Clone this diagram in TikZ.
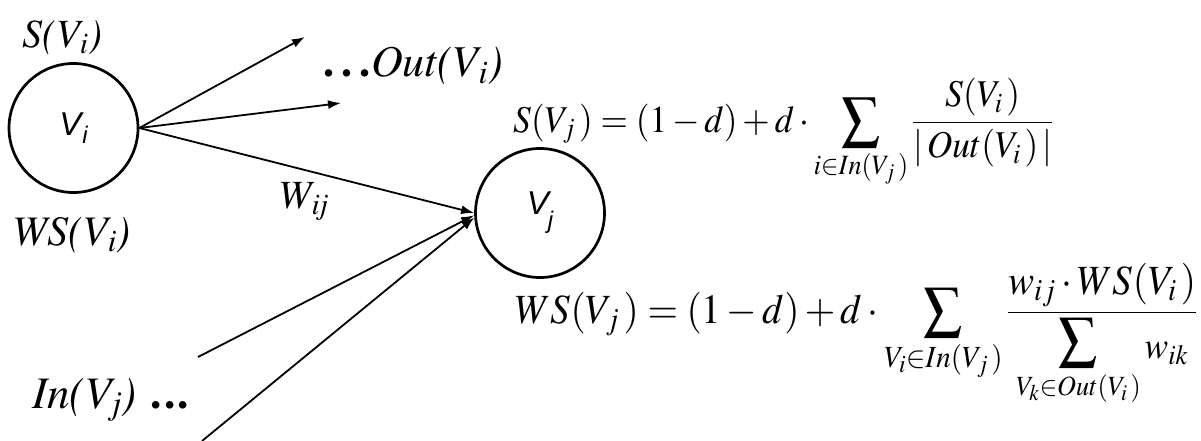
\documentclass[tikz,border=0pt]{standalone}
\usepackage{mathptmx}
\usepackage[no-math]{fontspec}
\newfontfamily\arialf{Liberation Sans}
\usepackage{graphicx}
\usetikzlibrary{arrows.meta}
\newcommand\timesit{\fontencoding{OT1}\fontfamily{ptm}\fontseries{m}\fontshape{it}\selectfont}
\newcommand\timesbf{\fontencoding{OT1}\fontfamily{ptm}\fontseries{b}\fontshape{n}\selectfont}
\newcommand\bigsumop{\mathop{\vcenter{\hbox{\resizebox*{42pt}{50pt}{$\textstyle\sum$}}}}\limits}
\tikzset{
  vert/.style={circle,draw,line width=2.7pt,minimum size=129pt,inner sep=0pt,
    font=\arialf\itshape\fontsize{33}{38}\selectfont},
  lbl/.style={inner sep=0pt,anchor=base west},
  formula/.style={inner sep=0pt,anchor=base west},
  edge/.style={line width=1.8pt,-{Latex[length=13pt,width=9pt]}}
}
\begin{document}
\begin{tikzpicture}[x=1pt,y=-1pt]
\useasboundingbox (0,0) rectangle (1201,441);
\node[vert] (Vi) at (73.5,128) {V\kern1pt\raisebox{-8pt}{\fontsize{24}{26}\selectfont i}};
\node[vert] (Vj) at (540,213) {V\kern-1pt\raisebox{-14pt}{\fontsize{24}{26}\selectfont j}};
\node[lbl,font=\fontsize{40}{44}\timesit] (SVi) at (22,48) {S(V$_{\mathit{i}}$)};
\node[lbl,font=\fontsize{42}{46}\timesit] (WSVi) at (12,245) {WS(V$_{\mathit{i}}$)};
\node[lbl,font=\fontsize{44}{48}\timesit] (Out) at (323,77) {{\timesbf.\kern7pt.\kern7pt.}\kern1pt Out(V$_{\mathit{i}}$)};
\node[lbl,font=\fontsize{40}{44}\timesit] (Wij) at (278,208) {W$_{\mathit{ij}}$};
\node[lbl,font=\fontsize{45}{48}\timesit] (In) at (32,408) {In(V$_{\mathit{j}}$)\kern14pt{\timesbf.\kern2pt.\kern2pt.}};
\coordinate (o1) at (305,37);
\coordinate (o2) at (341,103);
\coordinate (i1) at (198,357);
\coordinate (i2) at (202,441);
\draw[edge] (Vi.east) -- (o1);
\draw[edge] (Vi.east) -- (o2);
\draw[edge] (Vi.east) -- (Vj.180);
\draw[edge] (i1) -- (Vj.182);
\draw[edge] (i2) -- (Vj.184);
\node[formula] (F1) at (513,132)
  {\resizebox{540pt}{54pt}{\fontsize{38}{42}\selectfont
   $\displaystyle S(V_{j}\,)=(1-d)+d\cdot\bigsumop_{i\in In(V_{j}\,)}\frac{S(V_{i}\,)}{|\,Out(V_{i}\,)\,|}$}};
\node[formula] (F2) at (515,323)
  {\resizebox{682pt}{60pt}{\fontsize{42}{46}\selectfont
   $\displaystyle WS(V_{j}\,)=(1-d)+d\cdot\bigsumop_{V_i\in In(V_{j}\,)}\frac{\mbox{\fontsize{42}{44}\selectfont$w_{ij}\cdot WS(V_{i}\,)$}}{\mbox{\fontsize{38}{40}\selectfont$\displaystyle\bigsumop_{V_k\in Out(V_{i}\,)}\raisebox{-6pt}{$w_{ik}$}$}}$}};
\end{tikzpicture}
\end{document}
